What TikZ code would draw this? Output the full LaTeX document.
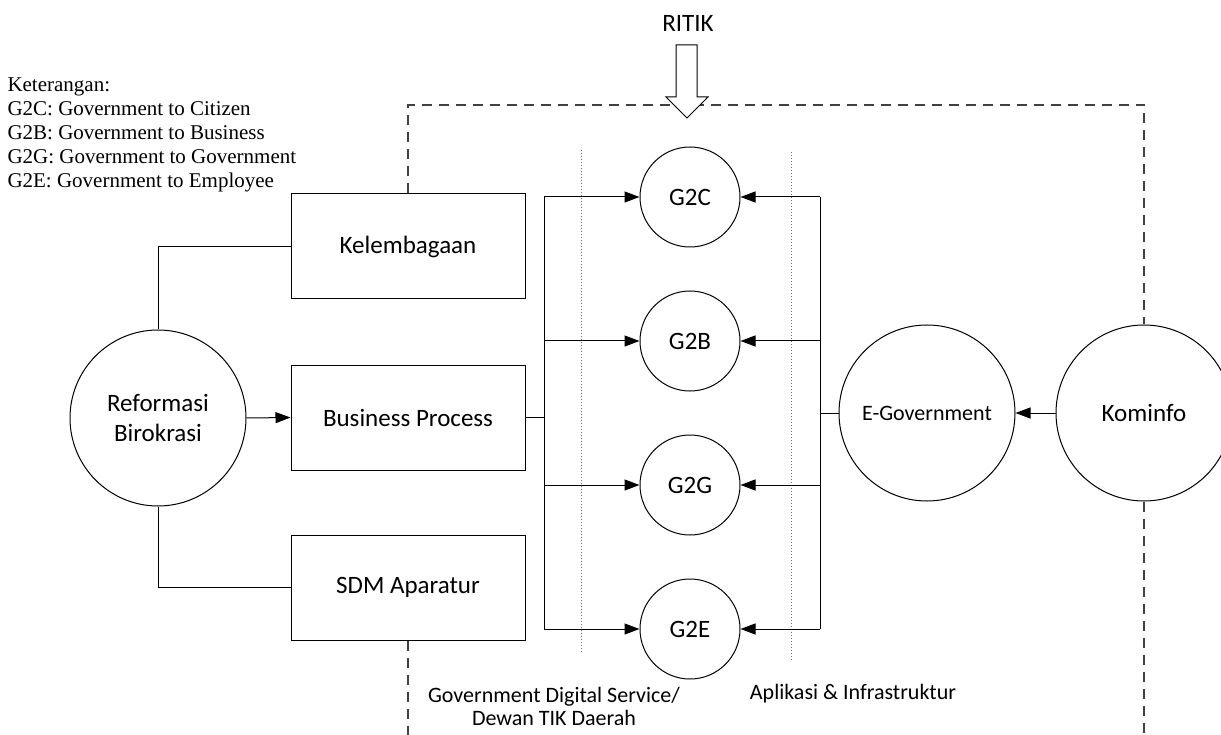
\documentclass[tikz,border=0pt]{standalone}
\usepackage{fontspec}
\setmainfont{Carlito}
\newfontfamily\legendfont{Liberation Serif}
\usepackage{tikz}
\usetikzlibrary{arrows.meta,positioning}
\tikzstyle{actor}=[circle,draw=black,fill=white,minimum size=176pt,inner sep=0pt,align=center,font=\fontsize{25}{30}\selectfont]
\tikzstyle{service}=[circle,draw=black,fill=white,minimum size=100pt,inner sep=0pt,font=\fontsize{25}{30}\selectfont]
\tikzstyle{unit}=[rectangle,draw=black,fill=white,minimum width=234pt,minimum height=105pt,font=\fontsize{25}{30}\selectfont]
\tikzstyle{frame}=[dashed,dash pattern=on 10pt off 7pt,draw=black!75,line width=1.2pt]
\tikzstyle{layer}=[dotted,draw=black!55,line width=1pt]
\tikzstyle{caption}=[align=center,inner sep=1pt,font=\fontsize{22}{23}\selectfont]

\begin{document}
\begin{tikzpicture}[x=1pt,y=-1pt,line width=1pt,>={Triangle[length=15pt,width=11pt]},
                    node distance=144pt]
  \useasboundingbox (0,0) rectangle (1221,735);

  % dashed frame and layer lines
  \coordinate (tl) at (408,105);
  \coordinate (tr) at (1144,105);
  \coordinate (lbus) at (544,0);
  \coordinate (rbus) at (820,0);
  \draw[layer] (581,150) -- (581,653);
  \draw[layer] (791,152) -- (791,660);

  \node[actor]   (ref) at (158,418) {Reformasi\\Birokrasi};
  \node[unit]    (kel) at (408,246.5) {Kelembagaan};
  \node[unit]    (bp)  [below of=kel,node distance=171pt] {Business Process};
  \node[unit]    (sdm) [below of=bp,node distance=170pt]  {SDM Aparatur};
  \node[service] (g2c) at (690,197) {G2C};
  \node[service] (g2b) [below of=g2c] {G2B};
  \node[service] (g2g) [below of=g2b] {G2G};
  \node[service] (g2e) [below of=g2g] {G2E};
  \node[actor,font=\fontsize{22}{26}\selectfont] (egov) at (927,413) {E-Government};
  \node[actor]   (kom) at (1144,413) {Kominfo};

  \draw[frame] (kel.north) -- (tl) -- (tr) -- (kom.north);
  \draw[frame] (sdm.south) -- (sdm.south |- 0,735);
  \draw[frame] (kom.south) -- (kom.south |- 0,735);

  \node (ritik) at (688,23) {\fontsize{25}{30}\selectfont RITIK};
  \draw[fill=white] (676,45) -- (697,45) -- (697,97) -- (708,97) -- (687,118)
        -- (666,97) -- (676,97) -- cycle;

  \draw (ref.north) |- (kel.west);
  \draw (ref.south) |- (sdm.west);
  \draw[->] (ref.east) -- (bp.west);
  \draw (bp.east) -- (bp.east -| lbus);
  \draw (g2c.west -| lbus) -- (g2e.west -| lbus);
  \draw (egov.west) -- (egov.west -| rbus);
  \draw (g2c.east -| rbus) -- (g2e.east -| rbus);
  \foreach \s in {g2c,g2b,g2g,g2e} {
    \draw[->] (\s.west -| lbus) -- (\s.west);
    \draw[->] (\s.east -| rbus) -- (\s.east);
  }
  \draw[->] (kom.west) -- (egov.east);

  \node[caption] (gds) at (554,706) {Government Digital Service/\\Dewan TIK Daerah};
  \node[caption] (apl) at (853,694) {Aplikasi \& Infrastruktur};

  \node[anchor=north west,inner sep=0pt,align=left,
        font=\legendfont\fontsize{21}{24}\selectfont] (legend) at (7,77)
    {Keterangan:\\G2C: Government to Citizen\\G2B: Government to Business\\
     G2G: Government to Government\\G2E: Government to Employee};
\end{tikzpicture}
\end{document}
